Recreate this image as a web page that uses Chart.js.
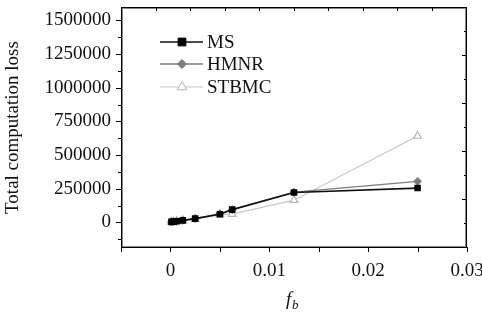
<!DOCTYPE html>
<html>
<head>
<meta charset="utf-8">
<script src="https://cdn.jsdelivr.net/npm/chart.js@4/dist/chart.umd.min.js"></script>
<style>
  html, body { margin: 0; padding: 0; background: #fff; }
  #wrap { width: 482px; height: 320px; }
</style>
</head>
<body>
<div id="wrap"><canvas id="chart" width="482" height="320"></canvas></div>
<script>
// f_b values and total computation loss per method
const fb = [0.0001, 0.0003, 0.000625, 0.00125, 0.0025, 0.005, 0.00625, 0.0125, 0.025];
const msLoss = [4000, 6000, 9000, 15000, 28000, 60000, 95000, 222000, 255000];
const hmnrLoss = [4000, 6000, 9000, 15000, 28000, 65000, 95000, 225000, 305000];
const stbmcLoss = [3000, 5000, 8000, 14000, 25000, 60000, 62000, 165000, 642000];

const xTicks = [0, 0.01, 0.02, 0.03];
const yTicks = [0, 250000, 500000, 750000, 1000000, 1250000, 1500000];

const FONT = "'Liberation Serif', 'Times New Roman', serif";

const toPoints = (ys) => ys.map((v, i) => ({ x: fb[i], y: v }));

// axis box and tick marks
const frame = {
  id: "frame",
  afterDraw(chart) {
    const { ctx, chartArea: a, scales } = chart;
    const x = scales.x, y = scales.y;
    const L = Math.round(a.left), R = Math.round(a.right) - 1;
    const T = Math.round(a.top), B = Math.round(a.bottom) - 1;
    ctx.save();
    // soft inner edge, like the antialiased frame in the original
    ctx.fillStyle = "#888";
    ctx.fillRect(L, T + 1, R - L + 1, 1);
    ctx.fillRect(L, B - 1, R - L + 1, 1);
    ctx.fillRect(L + 1, T, 1, B - T + 1);
    ctx.fillRect(R - 1, T, 1, B - T + 1);
    ctx.fillStyle = "#000";
    ctx.fillRect(L, T, R - L + 1, 1);
    ctx.fillRect(L, B, R - L + 1, 1);
    ctx.fillRect(L, T, 1, B - T + 1);
    ctx.fillRect(R, T, 1, B - T + 1);

    // left ticks, outward
    for (let v = -125000; v <= 1500000; v += 125000) {
      const py = Math.round(y.getPixelForValue(v));
      const len = v % 250000 === 0 ? 5 : 3;
      ctx.fillRect(L - len, py, len, 1);
    }
    // bottom ticks, outward
    for (let k = -1; k <= 6; k++) {
      const px = Math.round(x.getPixelForValue(k * 0.005));
      ctx.fillRect(px, B, 1, 5);
    }
    // top and right ticks, inward
    for (let i = 1; i < 10; i++) {
      const px = Math.round(L + (R - L) * i / 10);
      ctx.fillRect(px, T, 1, 4);
      const py = Math.round(T + (B - T) * i / 10);
      const len = i % 2 === 0 ? 4 : 2;
      ctx.fillRect(R - len, py, len, 1);
    }
    ctx.restore();
  }
};

// legend inside the plot and the x title with subscript
const labels = {
  id: "labels",
  afterDraw(chart) {
    const { ctx } = chart;
    ctx.save();
    const rows = [42, 64, 87];
    const legendRadius = [5.5, 4.5, 5.5];
    chart.data.datasets.forEach((ds, i) => {
      const ly = rows[i];
      ctx.strokeStyle = ds.borderColor;
      ctx.lineWidth = ds.borderWidth;
      ctx.beginPath();
      ctx.moveTo(160, ly);
      ctx.lineTo(203, ly);
      ctx.stroke();
      ctx.fillStyle = ds.pointBackgroundColor;
      ctx.strokeStyle = ds.pointBorderColor;
      ctx.lineWidth = 1;
      Chart.helpers.drawPoint(ctx, { pointStyle: ds.pointStyle, radius: legendRadius[i], rotation: 0, borderWidth: 1 }, 182, ly);
      ctx.fillStyle = "#111";
      ctx.font = "19px " + FONT;
      ctx.textBaseline = "middle";
      ctx.textAlign = "left";
      ctx.fillText(ds.label, 207, ly + 1);
    });

    ctx.fillStyle = "#111";
    ctx.textBaseline = "alphabetic";
    ctx.textAlign = "left";
    ctx.font = "italic 19px " + FONT;
    ctx.fillText("f", 286, 305);
    ctx.font = "italic 13px " + FONT;
    ctx.fillText("b", 292, 309);
    ctx.restore();
  }
};

new Chart(document.getElementById("chart"), {
  type: "line",
  data: {
    datasets: [
      {
        label: "MS",
        data: toPoints(msLoss),
        borderColor: "#111",
        borderWidth: 1.6,
        pointStyle: "rect",
        pointRadius: 3.5,
        pointBackgroundColor: "#000",
        pointBorderColor: "#000",
      },
      {
        label: "HMNR",
        data: toPoints(hmnrLoss),
        borderColor: "#7c7c7c",
        borderWidth: 1.3,
        pointStyle: "rectRot",
        pointRadius: 3.5,
        pointBackgroundColor: "#7c7c7c",
        pointBorderColor: "#7c7c7c",
      },
      {
        label: "STBMC",
        data: toPoints(stbmcLoss),
        borderColor: "#c6c6c6",
        borderWidth: 1.2,
        pointStyle: "triangle",
        pointRadius: 4.5,
        pointBackgroundColor: "#fff",
        pointBorderColor: "#b4b4b4",
      },
    ],
  },
  options: {
    responsive: false,
    animation: false,
    layout: { padding: { left: 0, right: 15, top: 7, bottom: 0 } },
    plugins: { legend: { display: false }, tooltip: { enabled: false } },
    elements: { line: { tension: 0 } },
    scales: {
      x: {
        type: "linear",
        min: -0.005,
        max: 0.03,
        afterBuildTicks: (s) => { s.ticks = xTicks.map((v) => ({ value: v })); },
        afterFit: (s) => { s.height = 72; s.paddingLeft = 0; s.paddingRight = 0; },
        grid: { display: false, drawTicks: false },
        border: { display: false },
        ticks: {
          padding: 12,
          maxRotation: 0,
          color: "#111",
          font: { family: FONT, size: 19 },
          callback: (v) => String(v),
        },
      },
      y: {
        type: "linear",
        min: -190000,
        max: 1600000,
        afterBuildTicks: (s) => { s.ticks = yTicks.map((v) => ({ value: v })); },
        afterFit: (s) => { s.width = 121; s.paddingTop = 0; s.paddingBottom = 0; },
        grid: { display: false, drawTicks: false },
        border: { display: false },
        ticks: {
          padding: 10,
          color: "#111",
          font: { family: FONT, size: 19 },
          callback: (v) => String(v),
        },
        title: {
          display: true,
          text: "Total computation loss",
          color: "#111",
          font: { family: FONT, size: 19 },
          padding: { top: 2, bottom: 0 },
        },
      },
    },
  },
  plugins: [frame, labels],
});
</script>
</body>
</html>
